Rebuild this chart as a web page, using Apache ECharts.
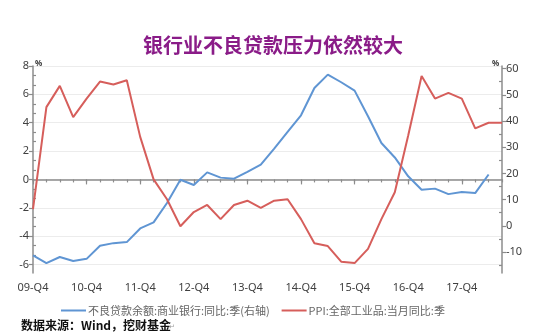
<!DOCTYPE html>
<html>
<head>
<meta charset="utf-8">
<script src="https://cdn.jsdelivr.net/npm/echarts@6/dist/echarts.min.js"></script>
<style>
  html, body { margin: 0; padding: 0; background: #fff; }
  #chart { width: 550px; height: 335px; }
</style>
</head>
<body>
<div id="chart"></div>
<script>
// Quarterly categories, 2009 Q4 to 2018 Q3
const quarters = [
  '09-Q4', '10-Q1', '10-Q2', '10-Q3', '10-Q4', '11-Q1', '11-Q2', '11-Q3', '11-Q4',
  '12-Q1', '12-Q2', '12-Q3', '12-Q4', '13-Q1', '13-Q2', '13-Q3', '13-Q4',
  '14-Q1', '14-Q2', '14-Q3', '14-Q4', '15-Q1', '15-Q2', '15-Q3', '15-Q4',
  '16-Q1', '16-Q2', '16-Q3', '16-Q4', '17-Q1', '17-Q2', '17-Q3', '17-Q4',
  '18-Q1', '18-Q2', '18-Q3'
];

// NPL balance YoY growth, commercial banks (%), right axis
const nplGrowth = [
  -11.3, -14.2, -11.9, -13.4, -12.6, -7.6, -6.6, -6.2, -1.0,
  1.3, 8.7, 17.6, 15.6, 20.4, 18.4, 18.0, 20.6,
  23.4, 29.5, 35.9, 42.2, 52.6, 57.7, 54.8, 51.6,
  41.8, 31.6, 26.1, 18.9, 13.8, 14.2, 12.1, 12.9,
  12.5, 19.6, null
];

// PPI, all industrial products, YoY (%), left axis
const ppi = [
  -2.1, 5.1, 6.6, 4.4, 5.7, 6.9, 6.7, 7.0, 3.0,
  0.0, -1.4, -3.3, -2.3, -1.8, -2.8, -1.8, -1.5,
  -2.0, -1.5, -1.4, -2.8, -4.5, -4.7, -5.8, -5.9,
  -4.9, -2.8, -0.9, 3.1, 7.3, 5.7, 6.1, 5.7,
  3.6, 4.0, 4.0
];

// Axis tick values
const leftTicks = [-6, -4, -2, 0, 2, 4, 6, 8];
const leftMinorTicks = [];
for (let v = -6; v < 8; v += 2) { leftMinorTicks.push(v + 2 / 3, v + 4 / 3); }
const rightTicks = [-10, 0, 10, 20, 30, 40, 50, 60];
const rightMinorTicks = [-15, -5, 5, 15, 25, 35, 45, 55];

const seriesNames = ['不良贷款余额:商业银行:同比:季(右轴)', 'PPI:全部工业品:当月同比:季'];

const axisGray = '#8c8c8c';
const labelColor = '#404040';
const numFont = 'Noto Sans';
const cjkFont = 'Noto Sans CJK SC';

const chart = echarts.init(document.getElementById('chart'), null, { renderer: 'canvas' });

chart.setOption({
  animation: false,
  backgroundColor: '#ffffff',
  title: {
    text: '银行业不良贷款压力依然较大',
    left: 138,
    top: 30,
    textStyle: { fontFamily: cjkFont, fontSize: 20, fontWeight: 'bold', color: '#8a1c88' }
  },
  grid: { left: 33, right: 48, top: 66, bottom: 62 },
  legend: {
    data: seriesNames,
    left: 56,
    top: 300,
    itemWidth: 25,
    itemHeight: 2,
    itemGap: 12,
    icon: 'rect',
    textStyle: { fontFamily: cjkFont, fontSize: 11, color: '#666666', padding: [0, 0, 0, -3] }
  },
  xAxis: [
    {
      type: 'category',
      data: quarters,
      boundaryGap: false,
      axisLine: { lineStyle: { color: axisGray, width: 1.5 } },
      axisTick: { interval: 3, length: 5, lineStyle: { color: axisGray, width: 1.2 } },
      axisLabel: { interval: 3, margin: 9, fontFamily: numFont, fontSize: 11, color: labelColor },
      splitLine: { show: false }
    },
    {
      type: 'category',
      data: quarters,
      boundaryGap: false,
      position: 'bottom',
      axisLine: { show: false },
      axisTick: { interval: 0, length: 3, lineStyle: { color: axisGray, width: 1.2 } },
      axisLabel: { show: false },
      splitLine: { show: false }
    }
  ],
  yAxis: [
    {
      type: 'value',
      position: 'left',
      min: -6.6,
      max: 8,
      axisLine: { show: true, lineStyle: { color: axisGray, width: 1.5 } },
      axisTick: { show: true, length: 4, customValues: leftTicks, lineStyle: { color: axisGray, width: 1.2 } },
      axisLabel: { customValues: leftTicks, margin: 4, fontFamily: numFont, fontSize: 11, color: labelColor },
      splitLine: { show: true, lineStyle: { color: '#ececec', width: 1 } }
    },
    {
      type: 'value',
      position: 'left',
      min: -6.6,
      max: 8,
      axisLine: { show: false },
      axisTick: { show: true, inside: true, length: 3, customValues: leftMinorTicks, lineStyle: { color: axisGray, width: 1.2 } },
      axisLabel: { show: false },
      splitLine: { show: false }
    },
    {
      type: 'value',
      position: 'right',
      min: -18,
      max: 61,
      axisLine: { show: true, lineStyle: { color: axisGray, width: 1.5 } },
      axisTick: { show: true, length: 4, customValues: rightTicks, lineStyle: { color: axisGray, width: 1.2 } },
      axisLabel: { customValues: rightTicks, margin: 4, fontFamily: numFont, fontSize: 11, color: labelColor },
      splitLine: { show: false }
    },
    {
      type: 'value',
      position: 'right',
      min: -18,
      max: 61,
      axisLine: { show: false },
      axisTick: { show: true, inside: true, length: 3, customValues: rightMinorTicks, lineStyle: { color: axisGray, width: 1.2 } },
      axisLabel: { show: false },
      splitLine: { show: false }
    }
  ],
  graphic: [
    {
      type: 'text', left: 35, top: 60,
      style: { text: '%', font: 'bold 8px ' + numFont, fill: labelColor }
    },
    {
      type: 'text', left: 492, top: 60,
      style: { text: '%', font: 'bold 8px ' + numFont, fill: labelColor }
    },
    {
      type: 'text', left: 21, top: 319,
      style: { text: '数据来源：Wind，挖财基金', font: 'bold 12px "Noto Sans CJK SC"', fill: '#111111' }
    },
    {
      type: 'text', left: 169, top: 323,
      style: { text: '↵', font: '7px "Noto Sans CJK SC"', fill: '#9a9a9a' }
    }
  ],
  series: [
    {
      name: seriesNames[0],
      type: 'line',
      xAxisIndex: 0,
      yAxisIndex: 2,
      data: nplGrowth,
      symbol: 'none',
      connectNulls: false,
      lineStyle: { color: '#5f95d3', width: 2 },
      itemStyle: { color: '#5f95d3' }
    },
    {
      name: seriesNames[1],
      type: 'line',
      xAxisIndex: 0,
      yAxisIndex: 0,
      data: ppi,
      symbol: 'none',
      lineStyle: { color: '#d65e5b', width: 2 },
      itemStyle: { color: '#d65e5b' }
    }
  ]
});
</script>
</body>
</html>
